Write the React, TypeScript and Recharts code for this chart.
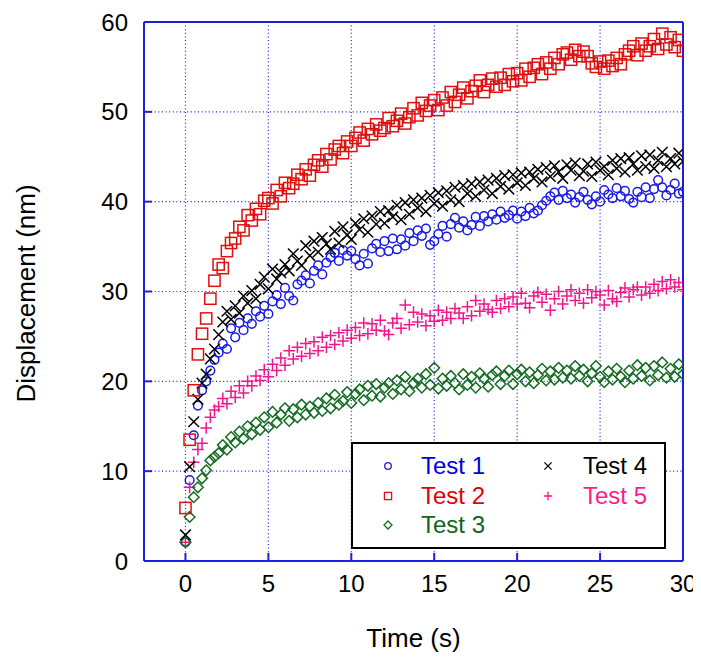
import React from 'react';
import { ScatterChart, Scatter, XAxis, YAxis, CartesianGrid, Legend } from 'recharts';

const TIME = [
  0, 0.25, 0.5, 0.75, 1, 1.25, 1.5, 1.75,
  2, 2.25, 2.5, 2.75, 3, 3.25, 3.5, 3.75,
  4, 4.25, 4.5, 4.75, 5, 5.25, 5.5, 5.75,
  6, 6.25, 6.5, 6.75, 7, 7.25, 7.5, 7.75,
  8, 8.25, 8.5, 8.75, 9, 9.25, 9.5, 9.75,
  10, 10.25, 10.5, 10.75, 11, 11.25, 11.5, 11.75,
  12, 12.25, 12.5, 12.75, 13, 13.25, 13.5, 13.75,
  14, 14.25, 14.5, 14.75, 15, 15.25, 15.5, 15.75,
  16, 16.25, 16.5, 16.75, 17, 17.25, 17.5, 17.75,
  18, 18.25, 18.5, 18.75, 19, 19.25, 19.5, 19.75,
  20, 20.25, 20.5, 20.75, 21, 21.25, 21.5, 21.75,
  22, 22.25, 22.5, 22.75, 23, 23.25, 23.5, 23.75,
  24, 24.25, 24.5, 24.75, 25, 25.25, 25.5, 25.75,
  26, 26.25, 26.5, 26.75, 27, 27.25, 27.5, 27.75,
  28, 28.25, 28.5, 28.75, 29, 29.25, 29.5, 29.75,
  30,
];

const TEST1 = [
  2.1, 9.0, 14.0, 17.3, 19.0, 20.0, 21.2, 22.4,
  23.2, 24.2, 23.6, 25.9, 24.9, 26.5, 25.7, 27.0,
  26.4, 27.8, 27.2, 28.4, 27.5, 28.9, 29.6, 28.6,
  30.4, 29.5, 29.0, 30.8, 31.2, 31.8, 30.9, 32.3,
  32.9, 31.9, 33.2, 33.8, 34.3, 33.4, 34.6, 34.0,
  34.5, 33.6, 32.9, 34.2, 33.1, 34.8, 35.3, 34.4,
  35.6, 34.5, 35.9, 34.7, 35.8, 35.1, 36.5, 35.6,
  36.8, 36.2, 37.0, 35.2, 35.6, 36.4, 37.3, 36.1,
  37.5, 38.2, 37.1, 37.8, 36.8, 37.4, 38.3, 37.3,
  38.4, 37.8, 38.6, 38.0, 38.9, 38.2, 38.5, 39.0,
  38.1, 38.9, 38.4, 39.3, 38.7, 39.0, 39.6, 40.1,
  40.6, 41.0, 40.2, 41.2, 40.4, 40.8, 39.9, 40.5,
  41.1, 40.2, 39.7, 40.6, 40.0, 41.3, 40.8, 40.4,
  41.5, 40.6, 41.2, 40.3, 39.9, 41.1, 40.5, 41.6,
  40.4, 41.4, 42.4, 41.6, 40.7, 41.3, 42.0, 40.9,
  41.1,
];

const TEST2 = [
  5.9, 13.5, 19.0, 23.0, 25.3, 27.0, 29.2, 31.2,
  33.0, 32.6, 34.5, 35.4, 35.9, 37.2, 36.8, 38.5,
  37.9, 39.2, 38.6, 40.1, 40.4, 39.8, 41.3, 40.6,
  42.1, 41.5, 42.0, 43.0, 42.5, 43.6, 42.9, 44.1,
  44.6, 43.9, 45.3, 44.7, 45.8, 46.2, 45.4, 46.7,
  46.2, 47.1, 47.7, 46.8, 48.1, 47.5, 48.6, 47.9,
  48.2, 49.3, 48.4, 49.0, 49.8, 48.7, 49.4, 50.4,
  49.6, 51.0, 50.1, 50.7, 51.3, 50.2, 51.6, 50.7,
  52.2, 51.1, 51.9, 52.7, 51.5, 52.3, 52.9, 53.5,
  52.2, 53.0, 53.7, 52.8, 53.8, 53.0, 54.2, 53.4,
  54.3, 53.5, 54.8, 53.9, 54.9, 55.3, 54.2, 55.5,
  54.8, 56.0, 55.3, 56.4, 56.6, 55.8, 56.9, 56.2,
  56.7, 56.2, 55.4, 55.0, 55.6, 54.8, 55.7, 55.1,
  56.0, 55.3, 56.4, 56.8, 57.3, 56.3, 57.6, 56.8,
  57.3, 58.1, 57.0, 58.7, 57.5, 58.3, 57.2, 58.0,
  56.8,
];

const TEST3 = [
  2.1, 4.9, 7.1, 8.2, 9.2, 10.1, 11.2, 11.6,
  12.0, 12.9, 12.4, 13.8, 13.2, 14.4, 13.6, 15.0,
  14.1, 15.4, 14.6, 16.0, 14.9, 16.6, 15.4, 16.3,
  17.0, 15.6, 16.9, 16.0, 17.4, 16.3, 17.2, 16.5,
  17.6, 16.7, 18.1, 17.0, 18.5, 17.4, 17.8, 18.8,
  17.6, 18.6, 19.1, 17.9, 19.5, 18.4, 19.7, 18.3,
  19.3, 19.8, 18.6, 20.1, 19.1, 20.5, 18.9, 19.8,
  20.3, 19.3, 20.8, 19.6, 21.5, 19.2, 20.3, 19.5,
  20.6, 19.8, 19.1, 20.8, 19.6, 20.5, 19.3, 20.9,
  20.3, 19.4, 20.7, 21.1, 19.7, 20.6, 21.2, 19.7,
  20.8, 21.3, 20.0, 21.0, 19.8, 20.7, 21.4, 20.1,
  21.1, 20.2, 21.5, 20.4, 21.2, 20.3, 21.7, 20.6,
  21.3, 20.0, 20.9, 21.7, 20.5, 19.9, 21.1, 20.2,
  21.4, 20.5, 19.9, 21.2, 20.3, 21.8, 20.6, 21.5,
  20.1, 21.7, 20.7, 22.1, 20.4, 21.4, 20.5, 21.9,
  20.8,
];

const TEST4 = [
  2.9, 10.5, 15.5, 18.0, 19.8, 20.8, 22.5, 23.6,
  25.2, 26.6, 27.8, 26.9, 28.4, 27.6, 29.5, 28.7,
  30.1, 29.2, 30.8, 31.6, 30.3, 32.5, 31.4, 32.1,
  33.0, 32.3, 34.2, 33.4, 32.9, 35.1, 34.0, 35.6,
  34.4, 36.0, 35.3, 34.7, 36.7, 35.4, 37.2, 36.3,
  35.8, 37.6, 36.9, 38.1, 36.6, 38.4, 37.5, 38.9,
  37.6, 39.0, 38.3, 39.6, 38.0, 39.9, 38.6, 40.2,
  39.3, 40.4, 38.9, 40.7, 39.8, 41.0, 39.5, 41.2,
  40.2, 41.6, 40.0, 41.8, 40.9, 42.0, 40.6, 42.2,
  41.3, 42.4, 40.9, 42.6, 41.7, 42.9, 41.4, 43.0,
  42.1, 43.2, 41.8, 43.3, 42.6, 43.6, 42.2, 43.8,
  42.8, 44.0, 43.3, 42.6, 44.1, 43.5, 44.3, 42.9,
  43.4, 44.2, 42.8, 44.4, 43.5, 43.9, 43.0, 44.6,
  43.7, 44.8, 43.3, 44.9, 44.2, 43.5, 45.1, 43.9,
  45.2, 43.7, 44.6, 45.5, 43.9, 44.8, 44.2, 45.4,
  44.5,
];

const TEST5 = [
  2.1, 8.2, 11.0, 12.4, 13.1, 14.8, 16.0, 16.8,
  17.2, 18.1, 17.5, 18.9, 18.2, 19.5, 18.7, 20.0,
  19.5, 20.6, 20.1, 21.3, 20.5, 21.9, 21.2, 22.6,
  21.8, 23.4, 22.5, 23.8, 22.8, 24.2, 23.1, 24.4,
  23.4, 24.9, 23.8, 25.1, 24.1, 25.4, 24.5, 25.7,
  24.8, 26.0, 25.1, 26.5, 25.3, 26.4, 25.7, 26.8,
  25.6, 25.2, 26.5, 27.0, 25.9, 28.5, 26.3, 27.7,
  26.6, 27.5, 26.2, 27.3, 26.7, 27.9, 26.8, 27.7,
  27.0, 28.1, 27.6, 27.0, 28.3, 27.3, 29.0, 27.8,
  28.6, 28.0, 27.7, 29.0, 28.1, 29.2, 28.3, 29.4,
  28.6, 29.8, 28.7, 28.2, 29.5, 29.9, 28.8, 29.7,
  27.9, 29.2, 30.0, 28.6, 29.5, 30.2, 29.0, 29.8,
  28.7, 30.2, 29.3, 30.0, 29.6, 28.5, 30.1, 29.2,
  28.9, 29.9, 30.4, 29.4, 30.2, 30.5, 29.6, 30.5,
  29.8, 30.8, 30.1, 31.1, 30.3, 31.3, 30.5, 31.0,
  30.2,
];

const SERIES_NAMES = ['Test 1', 'Test 2', 'Test 3', 'Test 4', 'Test 5'];
const X_TICKS = [0, 5, 10, 15, 20, 25, 30];
const Y_TICKS = [0, 10, 20, 30, 40, 50, 60];

const FONT = '"Liberation Sans", Arial, Helvetica, sans-serif';
const FRAME = '#1f1fe0';
const C1 = '#1a1ae8';
const C2 = '#e01010';
const C3 = '#146c22';
const C4 = '#000000';
const C5 = '#f0168c';
const TXT = ['#0000e0', '#e00000', '#106420', '#000000', '#ff1a8c'];

const toPoints = (ys: number[]) => ys.map((y, i) => ({ x: TIME[i], y }));

type MarkerKind = 'circle' | 'square' | 'diamond' | 'x' | 'plus';

const Marker = ({ kind, cx, cy, color, s, sw }: { kind: MarkerKind; cx: number; cy: number; color: string; s: number; sw: number }) => {
  if (kind === 'circle') return <circle cx={cx} cy={cy} r={s * 0.82} fill="none" stroke={color} strokeWidth={sw} />;
  if (kind === 'square') return <rect x={cx - s} y={cy - s} width={2 * s} height={2 * s} fill="none" stroke={color} strokeWidth={sw} />;
  if (kind === 'diamond')
    return <path d={`M${cx},${cy - s} L${cx + s},${cy} L${cx},${cy + s} L${cx - s},${cy} Z`} fill="none" stroke={color} strokeWidth={sw} />;
  if (kind === 'x')
    return <path d={`M${cx - s},${cy - s} L${cx + s},${cy + s} M${cx - s},${cy + s} L${cx + s},${cy - s}`} stroke={color} strokeWidth={sw} />;
  return <path d={`M${cx - s},${cy} L${cx + s},${cy} M${cx},${cy - s} L${cx},${cy + s}`} stroke={color} strokeWidth={sw} />;
};

const makeShape = (kind: MarkerKind, color: string, s: number) => (p: any) => (
  <Marker kind={kind} cx={p.cx} cy={p.cy} color={color} s={s} sw={1.5} />
);

const LEGEND_ITEMS: { kind: MarkerKind; color: string; col: number; row: number; size: number }[] = [
  { kind: 'circle', color: C1, col: 0, row: 0, size: 4 },
  { kind: 'square', color: C2, col: 0, row: 1, size: 3.6 },
  { kind: 'diamond', color: C3, col: 0, row: 2, size: 4 },
  { kind: 'x', color: C4, col: 1, row: 0, size: 3.6 },
  { kind: 'plus', color: C5, col: 1, row: 1, size: 4.2 },
];

const LegendBox = () => (
  <div
    style={{
      position: 'relative',
      width: 315,
      height: 107,
      boxSizing: 'border-box',
      border: '2px solid #000',
      background: '#fff',
      fontFamily: FONT,
    }}
  >
    {LEGEND_ITEMS.map((it, i) => {
      const cy = 24 + it.row * 29.5;
      const mx = it.col === 0 ? 37 : 197;
      const tx = it.col === 0 ? 70 : 232;
      return (
        <React.Fragment key={i}>
          <svg width={14} height={14} style={{ position: 'absolute', left: mx - 2 - 7, top: cy - 2 - 7 }}>
            <Marker kind={it.kind} cx={7} cy={7} color={it.color} s={it.size} sw={1.3} />
          </svg>
          <div
            style={{
              position: 'absolute',
              left: tx - 2,
              top: cy - 2 - 14,
              height: 28,
              lineHeight: '28px',
              fontSize: 24,
              color: TXT[i],
              whiteSpace: 'nowrap',
            }}
          >
            {SERIES_NAMES[i]}
          </div>
        </React.Fragment>
      );
    })}
  </div>
);

const YTitle = (props: any) => {
  const vb = props.viewBox || { x: 76, y: 14, width: 60, height: 539 };
  const x = vb.x - 58;
  const y = vb.y + vb.height / 2 + 2;
  return (
    <text x={x} y={y} transform={`rotate(-90, ${x}, ${y})`} textAnchor="middle" dominantBaseline="central" fontSize={26} fontFamily={FONT} fill="#000">
      Displacement (nm)
    </text>
  );
};

const XTitle = (props: any) => {
  const vb = props.viewBox || { x: 136, y: 553, width: 539, height: 40 };
  const x = vb.x + vb.width / 2;
  const y = vb.y + 77;
  return (
    <text x={x} y={y} textAnchor="middle" dominantBaseline="central" fontSize={26} fontFamily={FONT} fill="#000">
      Time (s)
    </text>
  );
};

export default function App() {
  const tickStyle = { fontSize: 24, fill: '#000', fontFamily: FONT };
  return (
    <div style={{ width: 693, height: 650, position: 'relative' }}>
      <ScatterChart width={693} height={650} margin={{ top: 13, right: 17, bottom: 57, left: 76 }}>
        <CartesianGrid stroke={FRAME} strokeDasharray="1 2.6" strokeWidth={1.2} />
        <XAxis
          xAxisId={0}
          type="number"
          dataKey="x"
          domain={[-2.5, 30]}
          ticks={X_TICKS}
          allowDataOverflow
          height={40}
          axisLine={{ stroke: FRAME, strokeWidth: 2 }}
          tickLine={{ stroke: FRAME, strokeWidth: 2 }}
          tickSize={-8}
          tickMargin={22}
          tick={tickStyle}
          label={XTitle}
        />
        <XAxis
          xAxisId="top"
          orientation="top"
          type="number"
          dataKey="x"
          domain={[-2.5, 30]}
          ticks={X_TICKS}
          allowDataOverflow
          height={1}
          axisLine={{ stroke: FRAME, strokeWidth: 2 }}
          tickLine={{ stroke: FRAME, strokeWidth: 2 }}
          tickSize={-8}
          tick={false}
        />
        <YAxis
          yAxisId={0}
          type="number"
          dataKey="y"
          domain={[0, 60]}
          ticks={Y_TICKS}
          allowDataOverflow
          width={60}
          axisLine={{ stroke: FRAME, strokeWidth: 2 }}
          tickLine={{ stroke: FRAME, strokeWidth: 2 }}
          tickSize={-8}
          tickMargin={24}
          tick={tickStyle}
          label={YTitle}
        />
        <YAxis
          yAxisId="right"
          orientation="right"
          type="number"
          dataKey="y"
          domain={[0, 60]}
          ticks={Y_TICKS}
          allowDataOverflow
          width={1}
          axisLine={{ stroke: FRAME, strokeWidth: 2 }}
          tickLine={{ stroke: FRAME, strokeWidth: 2 }}
          tickSize={-8}
          tick={false}
        />
        <Scatter name={SERIES_NAMES[0]} data={toPoints(TEST1)} shape={makeShape('circle', C1, 5.3)} isAnimationActive={false} />
        <Scatter name={SERIES_NAMES[4]} data={toPoints(TEST5)} shape={makeShape('plus', C5, 5.8)} isAnimationActive={false} />
        <Scatter name={SERIES_NAMES[2]} data={toPoints(TEST3)} shape={makeShape('diamond', C3, 5.3)} isAnimationActive={false} />
        <Scatter name={SERIES_NAMES[3]} data={toPoints(TEST4)} shape={makeShape('x', C4, 5.3)} isAnimationActive={false} />
        <Scatter name={SERIES_NAMES[1]} data={toPoints(TEST2)} shape={makeShape('square', C2, 5.6)} isAnimationActive={false} />
        <Legend
          layout="horizontal"
          align="center"
          verticalAlign="middle"
          content={() => <LegendBox />}
          wrapperStyle={{ position: 'absolute', left: 343, top: 434, width: 315, height: 107, bottom: 'auto', right: 'auto' }}
        />
      </ScatterChart>
    </div>
  );
}
